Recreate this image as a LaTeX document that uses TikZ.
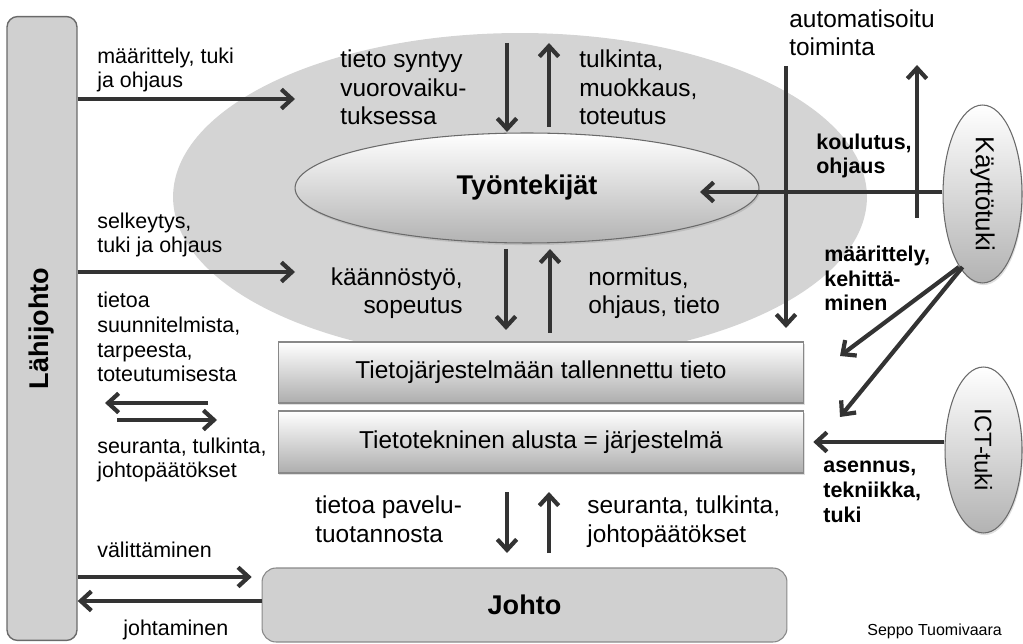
\documentclass[tikz,border=0pt]{standalone}
\usepackage{fontspec}
\setmainfont{Liberation Sans}
\usepackage{graphicx}
\usetikzlibrary{arrows.meta,shapes.geometric,shadows}

\definecolor{arrowgray}{HTML}{333333}
\definecolor{cloudgray}{HTML}{D4D4D4}
\definecolor{panelgray}{HTML}{D0D0D0}
\definecolor{edgegray}{HTML}{6A6A6A}

% type sizes (1 unit = 0.02cm)
\newcommand\fsmall{\fontsize{12.2}{14.17}\selectfont}
\newcommand\fmid{\fontsize{13.9}{16.44}\selectfont}
\newcommand\fbig{\fontsize{15.4}{18}\selectfont\bfseries}

\tikzset{
  arr/.style={draw=arrowgray, line width=2.4pt,
    -{Straight Barb[length=6pt,width=11pt]}},
  % multi-line labels: the base anchor sits on the last line
  lbl/.style={inner sep=0pt, anchor=base west, align=left, text=black},
  rlbl/.style={inner sep=0pt, anchor=base east, align=right, text=black},
  small/.style={font=\fsmall},
  smallbold/.style={font=\fsmall\bfseries},
  mid/.style={font=\fmid},
  gradbox/.style={draw=edgegray!80, line width=0.6pt, top color=white,
    bottom color=black!32, inner sep=0pt,
    drop shadow={shadow xshift=0.6pt, shadow yshift=-1.2pt, opacity=0.25}},
  gradell/.style={ellipse, draw=edgegray, line width=0.6pt, top color=white,
    bottom color=black!30, inner sep=0pt,
    drop shadow={shadow xshift=0.6pt, shadow yshift=-1.2pt, opacity=0.25}},
}

\begin{document}
\begin{tikzpicture}[x=0.02cm, y=-0.02cm]
\useasboundingbox (0,0) rectangle (1023,644);

% the shared space of knowledge
\node[ellipse, fill=cloudgray, inner sep=0pt, minimum width=13.88cm,
      minimum height=6.56cm] (cloud) at (520,197) {};
\node[gradell, minimum width=9.28cm, minimum height=2.2cm, font=\fbig] (staff) at (527,188)
      {Työntekijät};

% left column
\node[draw=edgegray, line width=0.8pt, fill=panelgray, rounded corners=6pt,
      minimum width=1.4cm, minimum height=12.48cm, inner sep=0pt] (lahi) at (42,328.5)
      {\rotatebox{90}{\fbig Lähijohto}};

% the two system layers
\node[gradbox, minimum width=10.52cm, minimum height=1.22cm, mid] (store) at (541,372.5)
      {Tietojärjestelmään tallennettu tieto};
\node[gradbox, minimum width=10.52cm, minimum height=1.24cm, mid] (platform) at (541,442)
      {Tietotekninen alusta = järjestelmä};

% management
\node[draw=edgegray!80, line width=0.6pt, fill=panelgray, rounded corners=8pt,
      minimum width=10.5cm, minimum height=1.48cm, inner sep=0pt, font=\fbig] (johto) at (524.5,605)
      {Johto};

% support units
\node[gradell, minimum width=1.58cm, minimum height=3.56cm] (kt) at (982.5,194)
      {\rotatebox{-90}{\fontsize{14.8}{18}\selectfont Käyttötuki}};
\node[gradell, minimum width=1.54cm, minimum height=3.32cm] (ict) at (983.5,450)
      {\rotatebox{-90}{\fontsize{13.6}{16}\selectfont ICT-tuki}};

% free arrow ends
\coordinate (defTip) at (295,99);
\coordinate (clarTip) at (295,272);
\coordinate (repFrom) at (208,403);
\coordinate (repTip) at (105,403);
\coordinate (monFrom) at (117,420);
\coordinate (monTip) at (217,420);
\coordinate (topDownA) at (507,43);
\coordinate (topDownB) at (507,132);
\coordinate (topUpA) at (549,127);
\coordinate (topUpB) at (549,43);
\coordinate (midDownA) at (506,249);
\coordinate (midDownB) at (506,330);
\coordinate (midUpA) at (550,333);
\coordinate (midUpB) at (550,249);
\coordinate (lowDownA) at (507,492);
\coordinate (lowDownB) at (507,553);
\coordinate (lowUpA) at (549,553);
\coordinate (lowUpB) at (549,492);
\coordinate (autoFrom) at (786,66);
\coordinate (autoTip) at (786,328);
\coordinate (autoUpFrom) at (917,218);
\coordinate (autoUpTip) at (917,65);
\coordinate (trainTip) at (700,192);
\coordinate (ktFoot) at (959,267);
\coordinate (devTipA) at (840,356);
\coordinate (devTipB) at (840,417);

% connectors
\draw[arr] (lahi.east |- defTip) -- (defTip);
\draw[arr] (lahi.east |- clarTip) -- (clarTip);
\draw[arr] (repFrom) -- (repTip);
\draw[arr] (monFrom) -- (monTip);
\draw[arr, shorten >=5.6pt] (lahi.east |- 0,577) -- (johto.west |- 0,577);
\draw[arr] (johto.west |- 0,601) -- (lahi.east |- 0,601);

\draw[arr] (topDownA) -- (topDownB);
\draw[arr] (topUpA) -- (topUpB);
\draw[arr] (midDownA) -- (midDownB);
\draw[arr] (midUpA) -- (midUpB);
\draw[arr] (lowDownA) -- (lowDownB);
\draw[arr] (lowUpA) -- (lowUpB);

\draw[arr] (autoFrom) -- (autoTip);
\draw[arr] (autoUpFrom) -- (autoUpTip);
\draw[arr] (kt.west |- trainTip) -- (trainTip);
\draw[arr] (ktFoot) -- (devTipA);
\draw[arr] ([xshift=2pt]ktFoot) -- (devTipB);
\draw[arr, shorten >=5pt] (ict.west |- 0,442) -- (platform.east |- 0,442);

% left labels (y = baseline of the last line)
\node[lbl, small] (tDef) at (97,88) {määrittely, tuki\\ja ohjaus};
\node[lbl, small] (tClar) at (97,253) {selkeytys,\\tuki ja ohjaus};
\node[lbl, small] (tPlan) at (97,382) {tietoa\\suunnitelmista,\\tarpeesta,\\toteutumisesta};
\node[lbl, small] (tMon) at (97,478) {seuranta, tulkinta,\\johtopäätökset};
\node[lbl, small] (tPass) at (97,557) {välittäminen};
\node[lbl, small] (tLead) at (123,635) {johtaminen};

% centre labels
\node[lbl, mid] (tBorn) at (340,125) {tieto syntyy\\vuorovaiku-\\tuksessa};
\node[lbl, mid] (tInterp) at (579,125) {tulkinta,\\muokkaus,\\toteutus};
\node[rlbl, mid] (tTrans) at (463,314) {käännöstyö,\\sopeutus};
\node[lbl, mid] (tNorm) at (588,314) {normitus,\\ohjaus, tieto};
\node[lbl, mid] (tProd) at (315,542) {tietoa pavelu-\\tuotannosta};
\node[lbl, mid] (tFollow) at (587,542) {seuranta, tulkinta,\\johtopäätökset};

% right labels
\node[lbl, mid] (tAuto) at (789,56) {automatisoitu\\toiminta};
\node[lbl, smallbold] (tTrain) at (816,174) {koulutus,\\ohjaus};
\node[lbl, smallbold] (tDev) at (824,311) {määrittely,\\kehittä-\\minen};
\node[lbl, smallbold] (tInst) at (823,522) {asennus,\\tekniikka,\\tuki};

\node[lbl, font=\fontsize{9.1}{11}\selectfont] (tAuthor) at (867,635) {Seppo Tuomivaara};
\end{tikzpicture}
\end{document}
